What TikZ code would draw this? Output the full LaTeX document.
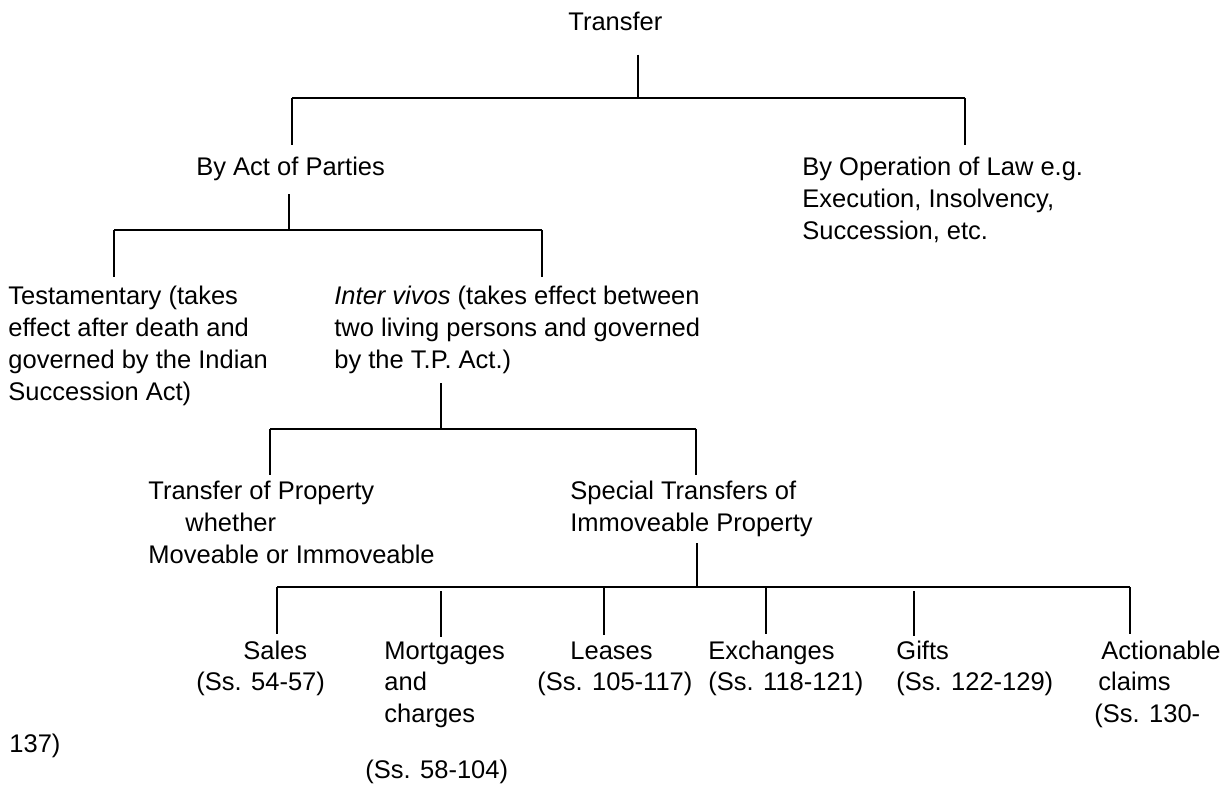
\documentclass[tikz,border=0pt]{standalone}
\usepackage{fontspec}
\setmainfont{Liberation Sans}
\begin{document}
\begin{tikzpicture}[x=0.5pt,y=-0.5pt,
  lbl/.style={anchor=base west, inner sep=0pt, align=left,
              font=\fontsize{12.75pt}{15.85pt}\selectfont},
  stem/.style={line width=1pt},
  thinstem/.style={line width=0.75pt},
  barline/.style={line width=1.4pt}]
\fill[white] (0,0) rectangle (1225,785);
\path[use as bounding box] (0,0) rectangle (1225,785);

% ---- nodes (positioned at the baseline of their last line) ----
\node[lbl] (transfer) at (568,31) {Transfer};
\node[lbl] (parties) at (196,176) {By Act of Parties};
\node[lbl] (law) at (802,239.4) {By Operation of Law e.g.\\Execution, Insolvency,\\Succession, etc.};
\node[lbl] (testa) at (8,400.1) {Testamentary (takes\\effect after death and\\governed by the Indian\\Succession Act)};
\node[lbl] (inter) at (334,368.4) {\textit{Inter vivos} (takes effect between\\two living persons and governed\\by the T.P. Act.)};
\node[lbl] (general) at (148,563.4) {Transfer of Property\\\hspace*{18.5pt}whether\\Moveable or Immoveable};
\node[lbl] (special) at (570,531.7) {Special Transfers of\\Immoveable Property};
\node[lbl] (sales) at (196,690.7) {\hspace*{23.5pt}Sales\\(Ss. 54-57)};
\node[lbl] (mort) at (384,722.4) {Mortgages\\and\\charges};
\node[lbl] (mortss) at (365,778) {(Ss. 58-104)};
\node[lbl] (leases) at (537,690.7) {\hspace*{16.5pt}Leases\\(Ss. 105-117)};
\node[lbl] (exch) at (708,690.7) {Exchanges\\(Ss. 118-121)};
\node[lbl] (gifts) at (896,690.7) {Gifts\\(Ss. 122-129)};
\node[lbl] (action) at (1094,722.4) {\hspace*{3.5pt}Actionable\\\hspace*{2pt}claims\\(Ss. 130-};
\node[lbl] (actwrap) at (9,752) {137)};

% ---- junction coordinates ----
\coordinate (b1) at (638,98);
\coordinate (b1l) at (292,98);
\coordinate (b1r) at (965,98);
\coordinate (b2) at (289,230);
\coordinate (b2l) at (114,230);
\coordinate (b2r) at (542,230);
\coordinate (b3) at (441,429);
\coordinate (b3l) at (270,429);
\coordinate (b3r) at (696,429);
\coordinate (b4) at (697,587);
\coordinate (c1) at (277,587);
\coordinate (c2) at (441,587);
\coordinate (c3) at (604,587);
\coordinate (c4) at (766,587);
\coordinate (c5) at (914,587);
\coordinate (c6) at (1130,587);

% ---- level 1 ----
\draw[stem, shorten <=11.5pt] (transfer.south -| b1) -- (b1);
\draw[barline] (b1l) -- (b1r);
\draw[stem, shorten >=6.2pt] (b1l) -- (b1l |- parties.north);
\draw[stem, shorten >=6.2pt] (b1r) -- (b1r |- law.north);

% ---- level 2 ----
\draw[stem, shorten <=6.3pt] (parties.south -| b2) -- (b2);
\draw[barline] (b2l) -- (b2r);
\draw[stem, shorten >=4.7pt] (b2l) -- (b2l |- testa.north);
\draw[stem, shorten >=4.7pt] (b2r) -- (b2r |- inter.north);

% ---- level 3 ----
\draw[stem, shorten <=4.6pt] (inter.south -| b3) -- (b3);
\draw[barline] (b3l) -- (b3r);
\draw[stem, shorten >=3.2pt] (b3l) -- (b3l |- general.north);
\draw[stem, shorten >=3.2pt] (b3r) -- (b3r |- special.north);

% ---- level 4 ----
\draw[stem, shorten <=3pt] (special.south -| b4) -- (b4);
\draw[barline] (c1) -- (c6);
\draw[stem, shorten >=3.2pt] (c1) -- (c1 |- sales.north);
\draw[thinstem, shorten <=2pt, shorten >=2.2pt] (c2) -- (c2 |- mort.north);
\draw[stem, shorten >=3.2pt] (c3) -- (c3 |- leases.north);
\draw[stem, shorten >=3.2pt] (c4) -- (c4 |- exch.north);
\draw[thinstem, shorten <=2pt, shorten >=2.2pt] (c5) -- (c5 |- gifts.north);
\draw[stem, shorten >=3.2pt] (c6) -- (c6 |- action.north);
\end{tikzpicture}
\end{document}
